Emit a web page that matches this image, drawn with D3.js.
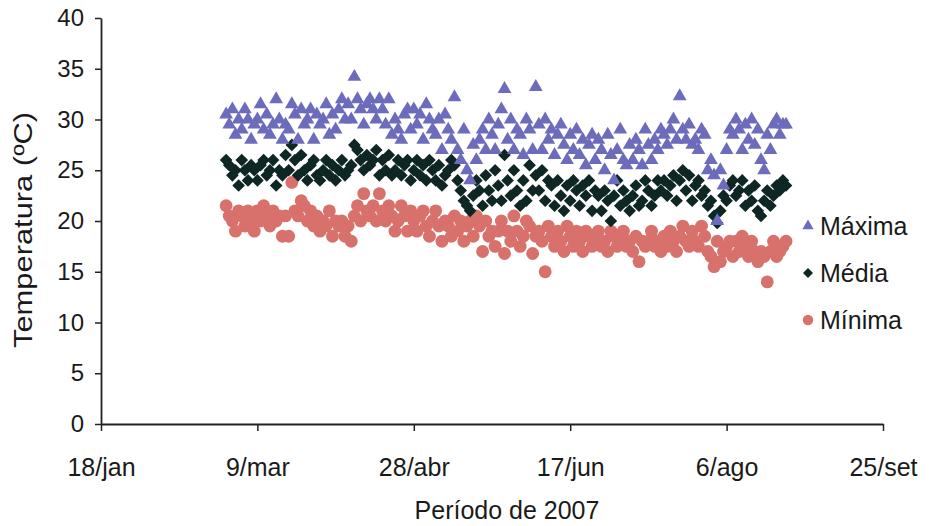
<!DOCTYPE html>
<html>
<head>
<meta charset="utf-8">
<script src="https://cdn.jsdelivr.net/npm/d3@7"></script>
<style>
  body { margin: 0; background: #fff; }
  svg { font-family: "Liberation Sans", Arial, sans-serif; }
</style>
</head>
<body>
<div id="chart"></div>
<script>
// daily readings, first day 27/fev/2007
const firstDay = "2007-02-27";

const maxima = [
  30.5, 29.5, 31, 28.5, 30, 29, 31, 30, 28, 29.5,
  30, 31.5, 29, 30.5, 28.5, 29.5, 32, 30, 28, 29.5,
  29, 31.5, 30.5, 28, 31, 29.5, 30, 31, 28, 30.5,
  29.5, 30, 31.5, 28.5, 30.5, 29, 31, 32, 30, 31.5,
  30, 34.2, 32, 31, 29.5, 31.5, 32, 31, 30, 32,
  31, 29.5, 32, 28.5, 30, 29, 28, 30.5, 31, 29,
  31, 29.5, 30.5, 28, 31.5, 30, 29, 28.5, 30, 27,
  30.5, 29, 28, 32.2, 27, 26, 29, 25, 24, 27.5,
  26, 28, 29, 27, 30, 28.5, 27, 29.5, 31, 33,
  28, 30, 27, 29, 28.5, 26.5, 30, 29, 27, 33.2,
  29.5, 27, 30, 28, 29, 26.5, 28.5, 29.5, 27.5, 26,
  28.5, 27, 29, 26.5, 28, 25.5, 27.5, 28.5, 26, 28,
  27, 25, 28.5, 26.5, 24, 27, 29, 26, 25.5, 27.5,
  26, 28, 27, 25.5, 29, 27.5, 26, 28, 27, 29,
  28.5, 27.5, 29, 30, 28, 32.3, 29, 28, 29.5, 27.5,
  28, 27, 29, 28.5, 25, 26, 24.5, 20, 25, 23.5,
  27, 29, 28.5, 30, 29, 27, 29.5, 28, 30, 27.5,
  29, 26, 25, 28.5, 27, 29.5, 30, 28.5, 29.5, 29.5
];

const media = [
  26, 25.5, 24.5, 25, 23.5, 26, 25, 24, 25.5, 25,
  24, 25.5, 26, 24.5, 25, 26, 23.5, 25, 24.5, 26.5,
  25, 27.5, 26, 24.5, 26.5, 25, 24, 25.5, 26, 24.5,
  24, 25, 26, 24.5, 25.5, 24, 25, 26, 24.5, 25,
  25.5, 27.5, 27, 26, 25, 26.5, 25.5, 26, 27, 24.5,
  26, 25, 26.5, 24.5, 25, 26, 24.5, 25.5, 26, 24,
  25, 26, 24.5, 25.5, 24, 26, 25, 24, 25.5, 23.5,
  24.5, 25, 26, 25.5, 24, 23, 22, 21.5, 21, 22.5,
  24, 23, 21.5, 24.5, 23, 22, 25, 23.5, 22, 26.5,
  24, 22.5, 25, 23, 21.5, 24, 22, 25.5, 23, 24.5,
  23, 25, 22, 24, 23.5, 21.5, 24, 22.5, 21, 23.5,
  22, 24, 23, 21.5, 23.5, 22.5, 24, 21, 23, 22.5,
  21, 23, 22, 20, 22.5, 24, 21.5, 23, 22, 21,
  22.5, 23.5, 21.5, 22, 24, 23, 21.5, 22.5, 24, 23,
  24, 22.5, 23.5, 24.5, 22, 24, 25, 23, 24.5, 22,
  23.5, 24, 22.5, 23, 21.5, 22, 20.5, 19.8, 21, 22.5,
  22, 23.5, 24, 22.5, 23, 24, 21.5, 23, 22, 23.5,
  21, 20.5, 22, 23, 21.5, 22.5, 23.5, 23, 24, 23.5
];

const minima = [
  21.5, 20.5, 20, 19, 21, 20.5, 19.5, 21, 20, 19,
  21, 20, 21.5, 20.5, 19.5, 21, 20, 20.5, 18.5, 20.5,
  18.5, 23.8, 21, 20.5, 22, 21.5, 20, 21, 19.5, 20.5,
  19, 20, 19.5, 21, 18.5, 20, 19.5, 20, 18.5, 19.5,
  18, 20.5, 21.5, 20, 22.7, 21, 20.5, 21.5, 20, 22.7,
  21, 20, 21.5, 20.5, 19, 20, 21.5, 20.5, 19, 21,
  20, 19, 20.5, 21, 19.5, 18.5, 20, 21, 19.5, 18,
  20, 19.5, 18.5, 20.5, 19, 20, 18, 19.5, 20, 18.5,
  20.5, 19.5, 17, 20, 18.5, 19, 17.5, 19, 20, 16.8,
  19, 18, 20.5, 19, 17.5, 18.5, 20, 19.5, 16.8, 18.5,
  19, 18, 15, 19.5, 18.5, 17.5, 19, 18, 17, 19.5,
  18.5, 17.5, 19, 18, 17, 19, 18.5, 17.5, 18, 19,
  17.5, 18, 17, 19, 18.5, 17.5, 18, 19, 17.5, 18,
  17, 18.5, 16, 18, 17.5, 18, 19, 17.5, 18, 17,
  18.5, 17.5, 19, 18, 17, 18.5, 19.5, 18, 17.5, 19,
  18, 17.5, 19.5, 18.5, 17, 16.5, 15.5, 18, 16, 17,
  17.5, 18, 16.5, 18, 17, 18.5, 17.5, 16.5, 18, 17,
  16, 17, 16.5, 14, 17, 18, 16.5, 17, 17.5, 18
];

const xTickDates = ["2007-01-18", "2007-03-09", "2007-04-28", "2007-06-17", "2007-08-06", "2007-09-25"];
const xTickLabels = ["18/jan", "9/mar", "28/abr", "17/jun", "6/ago", "25/set"];
const yTicks = [0, 5, 10, 15, 20, 25, 30, 35, 40];

const series = [
  { name: "Mínima", values: minima, color: "#d8716b", shape: "circle" },
  { name: "Média", values: media, color: "#0e2725", shape: "diamond" },
  { name: "Máxima", values: maxima, color: "#6d6bbb", shape: "triangle" }
];
const legendOrder = ["Máxima", "Média", "Mínima"];

const W = 929, H = 526;
const margin = { left: 101, right: 46, top: 18, bottom: 102 };

const parse = d3.utcParse("%Y-%m-%d");
const day0 = parse(firstDay);
const dates = maxima.map((_, i) => d3.utcDay.offset(day0, i));

const svg = d3.select("#chart").append("svg")
  .attr("width", W).attr("height", H);

const x = d3.scaleUtc()
  .domain([parse(xTickDates[0]), parse(xTickDates[xTickDates.length - 1])])
  .range([margin.left, W - margin.right]);

const y = d3.scaleLinear()
  .domain([0, 40])
  .range([H - margin.bottom, margin.top]);

const axisColor = "#222";
const textColor = "#1a1a1a";

// y axis
const gy = svg.append("g")
  .attr("transform", `translate(${margin.left},0)`)
  .call(d3.axisLeft(y).tickValues(yTicks).tickSize(6).tickPadding(11).tickSizeOuter(0));
gy.select(".domain").attr("stroke", axisColor).attr("stroke-width", 1.8);
gy.selectAll(".tick line").attr("stroke", axisColor).attr("stroke-width", 1.5);
gy.selectAll(".tick text").attr("font-size", 24).attr("fill", textColor)
  .attr("font-family", "Liberation Sans, Arial, sans-serif");

// x axis
const gx = svg.append("g")
  .attr("transform", `translate(0,${H - margin.bottom})`)
  .call(d3.axisBottom(x)
    .tickValues(xTickDates.map(parse))
    .tickFormat((d, i) => xTickLabels[i])
    .tickSize(7).tickPadding(27).tickSizeOuter(0));
gx.select(".domain").attr("stroke", axisColor).attr("stroke-width", 1.8);
gx.selectAll(".tick line").attr("stroke", axisColor).attr("stroke-width", 1.5);
gx.selectAll(".tick text").attr("font-size", 25).attr("fill", textColor)
  .attr("font-family", "Liberation Sans, Arial, sans-serif");

// axis titles
svg.append("text")
  .attr("x", 507)
  .attr("y", 519)
  .attr("text-anchor", "middle")
  .attr("font-size", 25).attr("fill", textColor)
  .text("Período de 2007");

svg.append("text")
  .attr("transform", `translate(32,230) rotate(-90)`)
  .attr("text-anchor", "middle")
  .attr("font-size", 25).attr("fill", textColor)
  .attr("textLength", 236).attr("lengthAdjust", "spacingAndGlyphs")
  .text("Temperatura (ºC)");

// marker shapes
const shapes = {
  triangle: d3.symbol().type(d3.symbolTriangle).size(82)(),
  diamond: d3.symbol().type(d3.symbolSquare).size(80)(),
  circle: d3.symbol().type(d3.symbolCircle).size(130)()
};
const rot = s => s === "diamond" ? " rotate(45)" : "";

series.forEach(s => {
  svg.append("g")
    .selectAll("path")
    .data(s.values)
    .join("path")
    .attr("d", shapes[s.shape])
    .attr("transform", (d, i) => `translate(${x(dates[i])},${y(d)})${rot(s.shape)}`)
    .attr("fill", s.color);
});

// legend
const legendSymbol = {
  triangle: d3.symbol().type(d3.symbolTriangle).size(55)(),
  diamond: d3.symbol().type(d3.symbolSquare).size(50)(),
  circle: d3.symbol().type(d3.symbolCircle).size(85)()
};
const legend = svg.append("g").attr("transform", "translate(808,226)");
legendOrder.forEach((name, i) => {
  const s = series.find(d => d.name === name);
  const g = legend.append("g").attr("transform", `translate(0,${i * 47})`);
  g.append("path")
    .attr("d", legendSymbol[s.shape])
    .attr("transform", s.shape === "diamond" ? "rotate(45)" : null)
    .attr("fill", s.color);
  g.append("text")
    .attr("x", 12).attr("y", 9)
    .attr("font-size", 25).attr("fill", textColor)
    .text(name);
});
</script>
</body>
</html>
